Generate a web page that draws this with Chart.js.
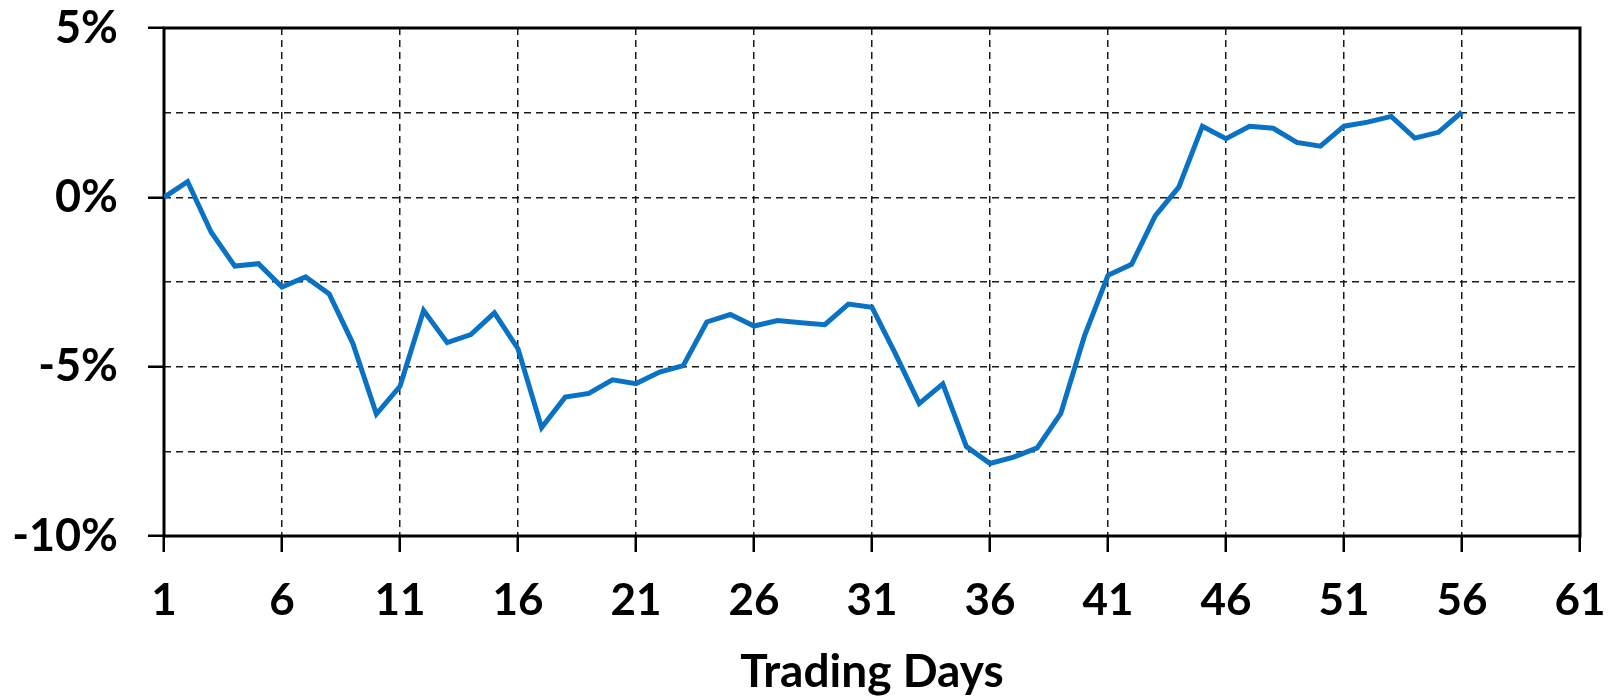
<!DOCTYPE html>
<html>
<head>
<meta charset="utf-8">
<title>Trading Days</title>
<script src="https://cdn.jsdelivr.net/npm/chart.js@4/dist/chart.umd.min.js"></script>
<style>
    html, body { margin: 0; padding: 0; background: #fff; }
    #wrap { width: 1613px; height: 696px; }
</style>
</head>
<body>
<div id="wrap"><canvas id="returnChart"></canvas></div>
<script>
// cumulative return (%) per trading day
const returns = [
    0, 0.46, -1.03, -2.03, -1.96, -2.65, -2.35, -2.85, -4.31, -6.4,
    -5.58, -3.34, -4.29, -4.05, -3.41, -4.47, -6.8, -5.9, -5.79, -5.39,
    -5.5, -5.16, -4.97, -3.68, -3.46, -3.8, -3.64, -3.7, -3.76, -3.15,
    -3.25, -4.63, -6.09, -5.51, -7.36, -7.86, -7.67, -7.4, -6.38, -4.1,
    -2.3, -1.98, -0.55, 0.3, 2.1, 1.73, 2.1, 2.04, 1.62, 1.51,
    2.1, 2.22, 2.39, 1.75, 1.92, 2.52
];
const xTicks = [1, 6, 11, 16, 21, 26, 31, 36, 41, 46, 51, 56, 61];
const yTicks = [-10, -7.5, -5, -2.5, 0, 2.5, 5];
const yLabelled = [-10, -5, 0, 5];

const FONT = "Lato, 'Open Sans', sans-serif";

// solid black frame round the plot area (Excel style)
const framePlugin = {
    id: "frame",
    beforeDatasetsDraw(chart) {
        const { ctx, chartArea: a } = chart;
        ctx.save();
        ctx.strokeStyle = "#000";
        ctx.lineWidth = 3;
        ctx.strokeRect(a.left, a.top, a.right - a.left, a.bottom - a.top);
        ctx.restore();
    }
};

document.addEventListener("DOMContentLoaded", () => {
    const ctx = document.getElementById("returnChart").getContext("2d");

    new Chart(ctx, {
        type: "line",
        data: {
            datasets: [{
                data: returns.map((v, i) => ({ x: i + 1, y: v })),
                borderColor: "#0A72C4",
                borderWidth: 5,
                pointRadius: 0,
                tension: 0,
                fill: false
            }]
        },
        options: {
            responsive: true,
            maintainAspectRatio: false,
            animation: false,
            layout: { padding: 0 },
            plugins: {
                legend: { display: false },
                tooltip: { enabled: false }
            },
            scales: {
                x: {
                    type: "linear",
                    min: 1,
                    max: 61,
                    afterBuildTicks: axis => { axis.ticks = xTicks.map(v => ({ value: v })); },
                    afterFit: axis => {
                        axis.height = 160;
                        axis.paddingLeft = 0;
                        axis.paddingRight = 33;
                    },
                    ticks: {
                        autoSkip: false,
                        maxRotation: 0,
                        padding: 22,
                        color: "#000",
                        font: { family: FONT, size: 44, weight: "bold" }
                    },
                    grid: {
                        color: "#1a1a1a",
                        lineWidth: 1.5,
                        tickLength: 16,
                        tickColor: "#000",
                        tickWidth: 2.5
                    },
                    border: { display: false, dash: [7, 5] },
                    title: {
                        display: true,
                        text: "Trading Days",
                        color: "#000",
                        padding: { top: 0, bottom: -4 },
                        font: { family: FONT, size: 46, weight: "bold" }
                    }
                },
                y: {
                    min: -10,
                    max: 5,
                    afterBuildTicks: axis => { axis.ticks = yTicks.map(v => ({ value: v })); },
                    afterFit: axis => {
                        axis.width = 164;
                        axis.paddingTop = 28;
                        axis.paddingBottom = 0;
                    },
                    ticks: {
                        padding: 30,
                        color: "#000",
                        font: { family: FONT, size: 45, weight: "bold" },
                        callback: v => yLabelled.includes(v) ? v + "%" : ""
                    },
                    grid: {
                        color: "#1a1a1a",
                        lineWidth: 1.5,
                        tickLength: 16,
                        tickWidth: 2.5,
                        tickColor: c => yLabelled.includes(c.tick.value) ? "#000" : "rgba(0,0,0,0)"
                    },
                    border: { display: false, dash: [7, 5] }
                }
            }
        },
        plugins: [framePlugin]
    });
});
</script>
</body>
</html>
